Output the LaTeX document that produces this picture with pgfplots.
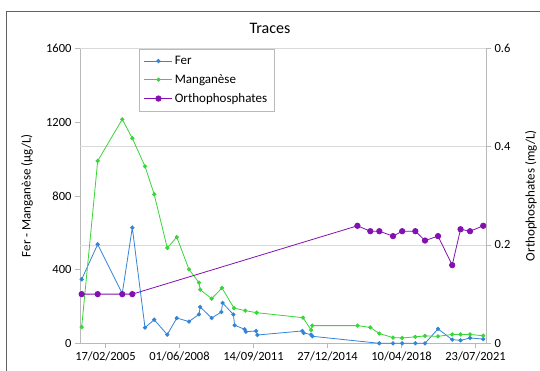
\documentclass[border=0pt]{standalone}
\usepackage{fontspec}
\setmainfont{Carlito}
\usepackage{pgfplots}
\pgfplotsset{compat=1.18}
\definecolor{cfe}{RGB}{52,132,214}
\definecolor{cmn}{RGB}{56,214,56}
\definecolor{cor}{RGB}{132,16,178}
\definecolor{cgrid}{RGB}{217,217,217}
\definecolor{caxis}{RGB}{185,185,185}
\pgfplotsset{
  festyle/.style={color=cfe, line width=0.8pt, mark=*, mark size=1.7pt, mark options={fill=cfe, draw=cfe}},
  mnstyle/.style={color=cmn, line width=0.8pt, mark=*, mark size=1.7pt, mark options={fill=cmn, draw=cmn}},
  orstyle/.style={color=cor, line width=0.8pt, mark=*, mark size=2.7pt, mark options={fill=cor, draw=cor}},
  common/.style={
    scale only axis, width=406pt, height=295pt,
    xmin=-413, xmax=6170,
    tick align=outside, major tick length=5pt,
    axis line style={caxis}, tick style={caxis, line width=0.6pt},
    ticklabel style={font=\fontsize{12.5}{15}\selectfont},
    label style={font=\fontsize{13}{15}\selectfont},
    /pgf/number format/assume math mode=true,
    /pgf/number format/1000 sep={},
  },
}
\pgfplotstableread{
d v
-386 347
-126 537
272 270
435 627
641 85
790 128
1002 47
1156 137
1354 118
1516 157
1536 197
1722 137
1879 170
1899 219
2074 156
2094 98
2257 76
2277 63
2442 67
2462 45
3193 67
3213 56
3334 47
3354 38
4440 0
4662 0
4811 0
5024 0
5181 0
5392 78
5622 20
5757 16
5911 29
6125 23
}\fer
\pgfplotstableread{
d v
-386 88
-126 989
272 1215
435 1112
641 960
790 808
1002 517
1156 576
1354 401
1516 329
1536 291
1722 242
1889 300
2084 191
2267 177
2452 166
3203 139
3334 72
3354 96
4085 96
4294 86
4440 53
4662 31
4811 29
5024 35
5181 40
5392 38
5622 48
5757 48
5911 48
6125 41
}\mn
\pgfplotstableread{
d v
-386 0.10
-126 0.10
272 0.10
435 0.10
4085 0.239
4294 0.228
4440 0.228
4662 0.218
4811 0.228
5024 0.228
5181 0.209
5392 0.218
5622 0.159
5757 0.232
5911 0.228
6125 0.239
}\ortho
\begin{document}
\begin{tikzpicture}[x=1pt,y=1pt]
\useasboundingbox (-80,-26.7) rectangle (460,343.3);
\fill[white] (-80,-26.7) rectangle (460,343.3);
\draw[color=black!62, line width=1pt] (-73,-40) rectangle (470,331.3);
\node[font=\fontsize{16}{19}\selectfont] at (190,315.3) {Traces};
\begin{axis}[common,
  at={(0,0)}, anchor=south west,
  ymin=0, ymax=1600,
  axis y line*=left, axis x line*=bottom,
  xtick={0,1200,2400,3600,4800,6000},
  xticklabels={17/02/2005,01/06/2008,14/09/2011,27/12/2014,10/04/2018,23/07/2021},
  ytick={0,400,800,1200,1600},
  extra y ticks={533.333,1066.667,1600},
  extra y tick labels={},
  extra y tick style={grid=major, major tick length=0pt, grid style={cgrid, line width=0.8pt}},
  ylabel={Fer - Manganèse (µg/L)},
  ylabel style={at={(axis description cs:-0.1305,0.5)}, anchor=center},
]
\addplot[festyle] table[x=d,y=v] {\fer};
\addplot[mnstyle] table[x=d,y=v] {\mn};
\end{axis}
\begin{axis}[common,
  at={(0,0)}, anchor=south west,
  ymin=0, ymax=0.6,
  axis y line*=right, axis x line=none,
  ytick={0,0.2,0.4,0.6},
  yticklabel style={/pgf/number format/fixed, /pgf/number format/precision=1},
  ylabel={Orthophosphates (mg/L)},
  ylabel style={at={(axis description cs:1.111,0.5)}, anchor=center},
  legend style={at={(axis description cs:0.145,0.998)}, anchor=north west,
    draw=caxis, fill=white, font=\fontsize{13}{15}\selectfont,
    row sep=4.5pt, inner xsep=5pt, inner ysep=5pt,
    legend cell align=left},
  legend image code/.code={\draw[mark repeat=2, mark phase=2, #1] plot coordinates {(0pt,0pt)(14pt,0pt)(28pt,0pt)};},
]
\addlegendimage{festyle}
\addlegendentry{Fer}
\addlegendimage{mnstyle}
\addlegendentry{Manganèse}
\addplot[orstyle] table[x=d,y=v] {\ortho};
\addlegendentry{Orthophosphates}
\end{axis}
\end{tikzpicture}
\end{document}
